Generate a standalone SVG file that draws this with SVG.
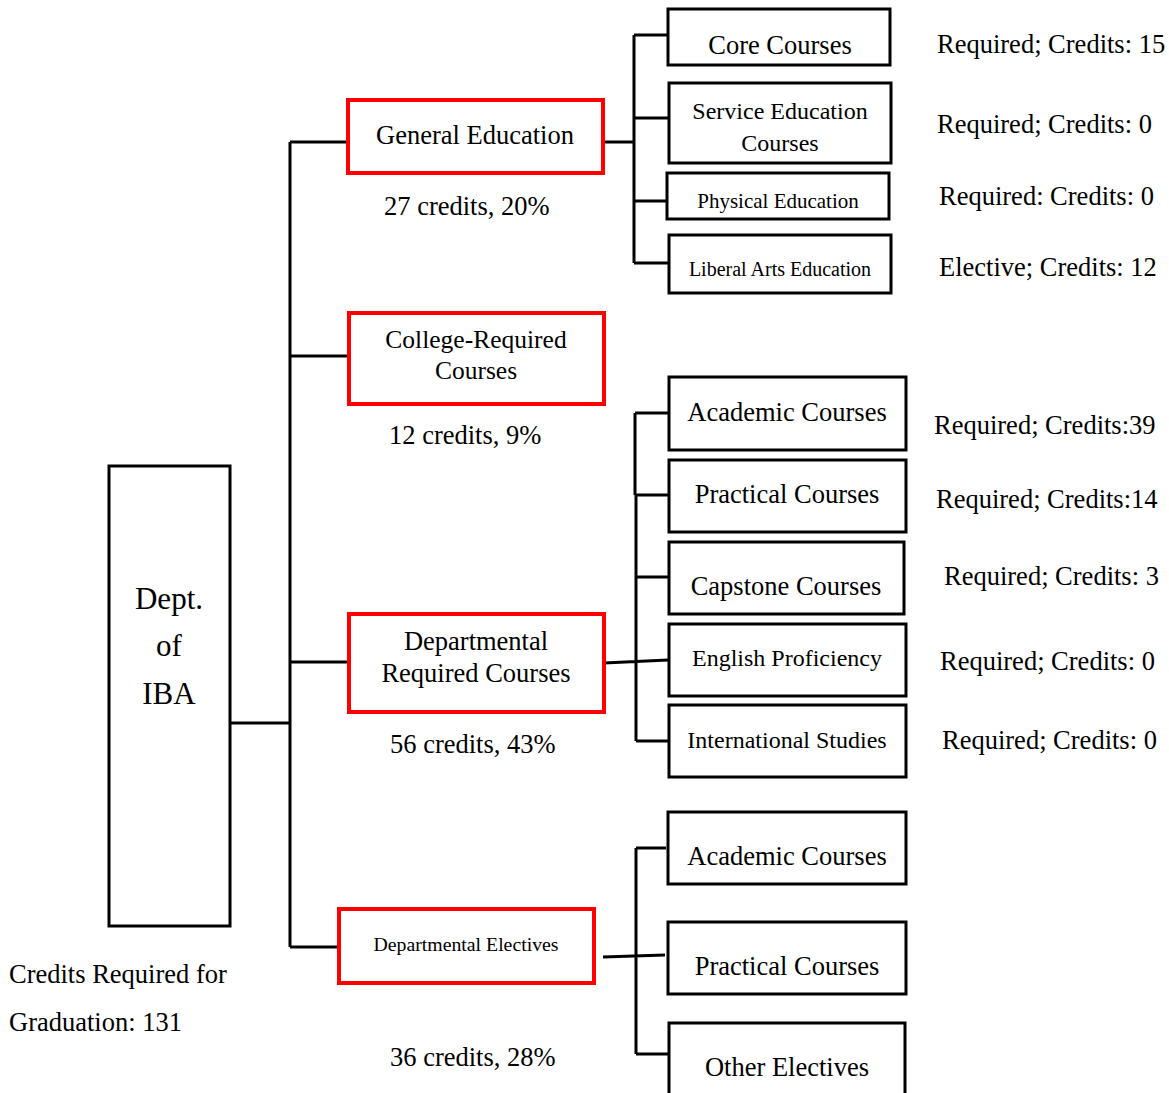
<svg xmlns="http://www.w3.org/2000/svg" width="1169" height="1093" viewBox="0 0 1169 1093" font-size="26.5">
<style>
text{font-family:"Liberation Serif","Times New Roman",Times,serif;fill:#000}
.c{text-anchor:middle}
.box{fill:#fff;stroke:#000;stroke-width:3}
.red{fill:#fff;stroke:#ff0000;stroke-width:4}
.ln{fill:none;stroke:#000;stroke-width:3}
</style>
<rect width="1169" height="1093" fill="#fff"/>
<g id="connectors">
<path class="ln" d="M230,723 H290 M290,142 V947 M290,142 H348 M290,356 H349 M290,662 H349 M290,947 H339"/>
<path class="ln" d="M603,142 H634 M634,35 V263 M634,35 H668 M634,118 H668 M634,201 H667 M634,263 H669" stroke-width="3.5"/>
<path class="ln" d="M604,663 L668,660 M635,413 V495 M636,495 V741 M635,413 H669 M635,495 H669 M636,577 H669 M636,741 H669"/>
<path class="ln" d="M603,957 L665,955 M636,848 V1054 M636,848 H666 M636,1054 H669"/>
</g>
<g id="dept"><rect class="box" x="109" y="466" width="121" height="460"/>
<text class="c" x="169" y="609" font-size="31">Dept.</text><text class="c" x="169" y="656" font-size="31">of</text><text class="c" x="169" y="704" font-size="31">IBA</text></g>
<g id="total"><text x="9" y="983">Credits Required for</text><text x="9" y="1031">Graduation: 131</text></g>
<g id="gen-ed"><rect class="red" x="348" y="100" width="255" height="73"/><text class="c" x="475" y="144">General Education</text><text x="384" y="215">27 credits, 20%</text></g>
<g id="college"><rect class="red" x="349" y="313" width="255" height="91"/><text class="c" x="476" y="348" font-size="25.5">College-Required</text><text class="c" x="476" y="379" font-size="25.5">Courses</text><text x="389" y="444">12 credits, 9%</text></g>
<g id="dept-req"><rect class="red" x="349" y="614" width="255" height="98"/><text class="c" x="476" y="650">Departmental</text><text class="c" x="476" y="682">Required Courses</text><text x="390" y="753">56 credits, 43%</text></g>
<g id="dept-elec"><rect class="red" x="339" y="909" width="255" height="74"/><text class="c" x="466" y="951" font-size="19.8">Departmental Electives</text><text x="390" y="1066">36 credits, 28%</text></g>
<g id="core"><rect class="box" x="668" y="9" width="222" height="56"/><text class="c" x="780" y="54">Core Courses</text><text x="937" y="53">Required; Credits: 15</text></g>
<g id="service"><rect class="box" x="669" y="83" width="222" height="80"/><text class="c" x="780" y="119" font-size="24">Service Education</text><text class="c" x="780" y="151" font-size="24">Courses</text><text x="937" y="133">Required; Credits: 0</text></g>
<g id="pe"><rect class="box" x="667" y="173" width="222" height="46"/><text class="c" x="778" y="208" font-size="21">Physical Education</text><text x="939" y="205">Required: Credits: 0</text></g>
<g id="liberal"><rect class="box" x="669" y="235" width="222" height="58"/><text class="c" x="780" y="276" font-size="20">Liberal Arts Education</text><text x="939" y="276">Elective; Credits: 12</text></g>
<g id="academic1"><rect class="box" x="669" y="377" width="237" height="73"/><text class="c" x="787" y="421">Academic Courses</text><text x="934" y="434">Required; Credits:39</text></g>
<g id="practical1"><rect class="box" x="669" y="460" width="237" height="72"/><text class="c" x="787" y="503">Practical Courses</text><text x="936" y="508">Required; Credits:14</text></g>
<g id="capstone"><rect class="box" x="669" y="542" width="235" height="72"/><text class="c" x="786" y="595">Capstone Courses</text><text x="944" y="585">Required; Credits: 3</text></g>
<g id="english"><rect class="box" x="669" y="624" width="237" height="72"/><text class="c" x="787" y="666" font-size="24">English Proficiency</text><text x="940" y="670">Required; Credits: 0</text></g>
<g id="intl"><rect class="box" x="669" y="705" width="237" height="72"/><text class="c" x="787" y="748" font-size="24">International Studies</text><text x="942" y="749">Required; Credits: 0</text></g>
<g id="academic2"><rect class="box" x="668" y="812" width="238" height="72"/><text class="c" x="787" y="865">Academic Courses</text></g>
<g id="practical2"><rect class="box" x="668" y="922" width="238" height="72"/><text class="c" x="787" y="975">Practical Courses</text></g>
<g id="other"><rect class="box" x="669" y="1023" width="236" height="80"/><text class="c" x="787" y="1076">Other Electives</text></g>
</svg>
